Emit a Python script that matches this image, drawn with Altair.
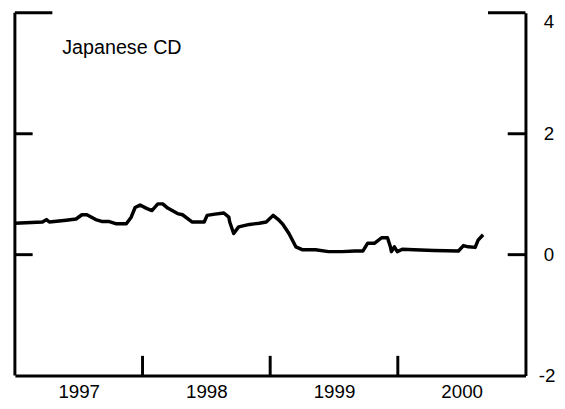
import altair as alt
import pandas as pd

# Japanese CD series (year fraction, value)
years = [1997.000, 1997.216, 1997.247, 1997.270, 1997.402, 1997.479, 1997.525, 1997.564,
         1997.633, 1997.680, 1997.734, 1997.795, 1997.873, 1997.911, 1997.942, 1997.981,
         1998.027, 1998.073, 1998.120, 1998.158, 1998.197, 1998.274, 1998.313, 1998.390,
         1998.483, 1998.506, 1998.568, 1998.637, 1998.676, 1998.683, 1998.714, 1998.753,
         1998.838, 1998.915, 1998.969, 1999.023, 1999.069, 1999.100, 1999.147, 1999.201,
         1999.255, 1999.355, 1999.456, 1999.564, 1999.664, 1999.726, 1999.764, 1999.819,
         1999.873, 1999.919, 1999.942, 1999.950, 1999.973, 1999.996, 2000.035, 2000.127,
         2000.282, 2000.475, 2000.514, 2000.552, 2000.606, 2000.629, 2000.668]
values = [0.52, 0.54, 0.58, 0.54, 0.57, 0.59, 0.66, 0.66,
          0.58, 0.55, 0.55, 0.51, 0.51, 0.62, 0.78, 0.82,
          0.77, 0.73, 0.84, 0.84, 0.77, 0.68, 0.66, 0.54,
          0.54, 0.65, 0.67, 0.69, 0.62, 0.54, 0.35, 0.46,
          0.50, 0.52, 0.54, 0.65, 0.57, 0.50, 0.35, 0.13,
          0.08, 0.08, 0.05, 0.05, 0.06, 0.06, 0.19, 0.19,
          0.28, 0.28, 0.13, 0.05, 0.13, 0.05, 0.09, 0.08,
          0.07, 0.06, 0.15, 0.13, 0.12, 0.24, 0.33]

year_ticks = [1998, 1999, 2000]
year_label_pos = [1997.5, 1998.5, 1999.5, 2000.5]
y_tick_values = [0, 2]
y_top = [4]
y_labels = [-2, 0, 2, 4]
title_text = "Japanese CD"

W, H = 518, 368
FONT = "Liberation Sans"

df = pd.DataFrame({"year": years, "value": values})
xs = alt.Scale(domain=[1997, 2001], nice=False, zero=False)
ys = alt.Scale(domain=[-2, 4], nice=False, zero=False)

x_axis = alt.Axis(values=year_label_pos, labelExpr="'' + floor(datum.value)",
                  ticks=False, grid=False, title=None, domainColor="black",
                  domainWidth=3, labelFontSize=19, labelFont=FONT,
                  labelColor="black", labelPadding=7, labelFlush=False)
y_axis = alt.Axis(orient="right", values=y_labels, labelExpr="'' + datum.value",
                  ticks=False, grid=False,
                  title=None, domainWidth=3, domainColor="black",
                  labelFontSize=19, labelFont=FONT, labelColor="black",
                  labelFlush=False,
                  labelPadding={"condition": {"test": "datum.value <= -2", "value": 13},
                                "value": 18},
                  labelBaseline={"condition": {"test": "datum.value >= 4",
                                               "value": "top"},
                                 "value": "middle"})

line = alt.Chart(df).mark_line(color="black", strokeWidth=3.5, strokeJoin="round").encode(
    x=alt.X("year:Q", scale=xs, axis=x_axis),
    y=alt.Y("value:Q", scale=ys, axis=y_axis),
)

one = pd.DataFrame({"v": [0]})
left_border = alt.Chart(one).mark_rule(color="black", strokeWidth=3).encode(
    x=alt.value(0), y=alt.value(0), y2=alt.value(H))

yt = pd.DataFrame({"t": y_tick_values})
left_ticks = alt.Chart(yt).mark_rule(color="black", strokeWidth=3).encode(
    y=alt.Y("t:Q", scale=ys, axis=y_axis), x=alt.value(0), x2=alt.value(18))
right_ticks = alt.Chart(yt).mark_rule(color="black", strokeWidth=3).encode(
    y=alt.Y("t:Q", scale=ys, axis=y_axis), x=alt.value(W - 18), x2=alt.value(W))

top = pd.DataFrame({"t": y_top})
top_left = alt.Chart(top).mark_rule(color="black", strokeWidth=3).encode(
    y=alt.Y("t:Q", scale=ys, axis=y_axis), x=alt.value(0), x2=alt.value(38))
top_right = alt.Chart(top).mark_rule(color="black", strokeWidth=3).encode(
    y=alt.Y("t:Q", scale=ys, axis=y_axis), x=alt.value(W - 38), x2=alt.value(W))

xt = pd.DataFrame({"t": year_ticks})
bottom_ticks = alt.Chart(xt).mark_rule(color="black", strokeWidth=3).encode(
    x=alt.X("t:Q", scale=xs, axis=x_axis), y=alt.value(H), y2=alt.value(H - 20))

title = alt.Chart(pd.DataFrame({"label": [title_text]})).mark_text(
    align="left", baseline="alphabetic", fontSize=20, font=FONT, color="black"
).encode(x=alt.value(48), y=alt.value(42), text="label:N")

chart = alt.layer(line, left_border, left_ticks, right_ticks, top_left, top_right,
                  bottom_ticks, title).properties(
    width=W, height=H,
    autosize=alt.AutoSizeParams(type="none"),
    padding={"left": 7, "top": 2, "right": 32, "bottom": 31},
).configure_view(stroke=None)

chart.save("out.html", embed_options={"renderer": "svg", "actions": False})
